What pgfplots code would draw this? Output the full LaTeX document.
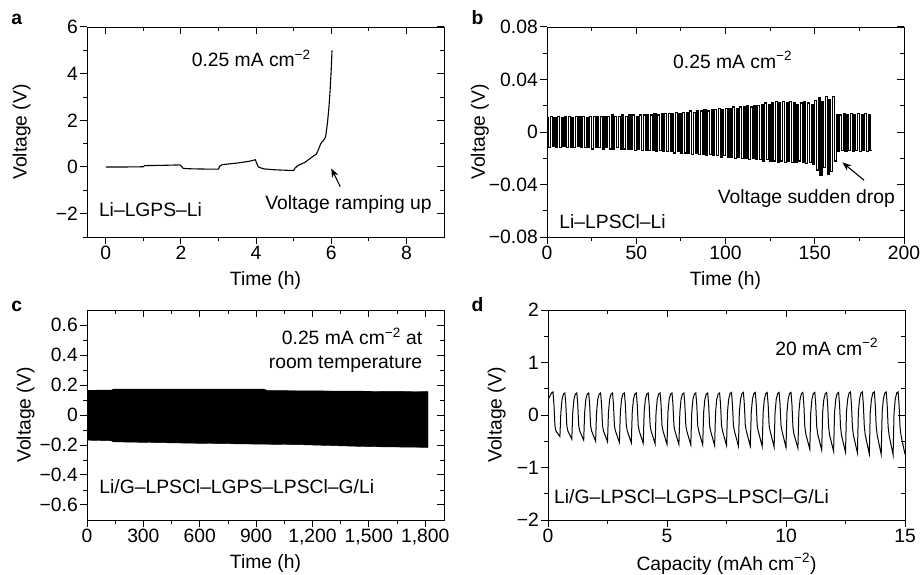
\documentclass[border=0pt]{standalone}
\usepackage{pgfplots}
\pgfplotsset{compat=1.18}
\usepackage{fontspec}
\setmainfont{Liberation Sans}
\usetikzlibrary{arrows.meta}

\newcommand{\fsz}{\fontsize{19.3}{22}\selectfont}

\pgfplotsset{
  base/.style={scale only axis, width=357pt, height=210pt,
    axis line style={line width=0.9pt},
    major tick style={line width=1pt, black},
    minor tick style={line width=0.8pt, black},
    major tick length=7pt, minor tick length=4pt, scaled ticks=false,
    tick label style={font=\fsz}, label style={font=\fsz}},
  mainax/.style={base, tick align=outside, xtick pos=bottom, ytick pos=left,
    xticklabel style={inner sep=2pt}, yticklabel style={inner sep=2pt}},
  overax/.style={base, tick align=inside, xtick pos=top, ytick pos=right,
    xticklabels={}, yticklabels={}},
  pa/.style={xmin=-0.5, xmax=9, ymin=-3, ymax=6, xtick={0,2,4,6,8}, ytick={-2,0,2,4,6},
    minor xtick={1,3,5,7}, minor ytick={-3,-1,1,3,5}},
  pb/.style={xmin=0, xmax=200, ymin=-0.08, ymax=0.08, xtick={0,50,100,150,200},
    ytick={-0.08,-0.04,0,0.04,0.08}, minor xtick={25,75,125,175}, minor ytick={-0.06,-0.02,0.02,0.06}},
  pc/.style={xmin=0, xmax=1900, ymin=-0.7, ymax=0.7, xtick={0,300,600,900,1200,1500,1800},
    ytick={-0.6,-0.4,-0.2,0,0.2,0.4,0.6}, minor xtick={150,450,750,1050,1350,1650},
    minor ytick={-0.5,-0.3,-0.1,0.1,0.3,0.5}},
  pd/.style={xmin=0, xmax=15, ymin=-2, ymax=2, xtick={0,5,10,15}, ytick={-2,-1,0,1,2},
    minor xtick={2.5,7.5,12.5}, minor ytick={-1.5,-0.5,0.5,1.5}},
}

\pgfplotstableread{
t v
0 0.011
1 -0.012
2 0.012
3 -0.011
4 0.011
5 -0.012
6 0.012
7 -0.012
8 0.011
9 -0.011
10 0.012
11 -0.012
12 0.012
13 -0.012
14 0.011
15 -0.012
16 0.012
17 -0.011
18 0.012
19 -0.012
20 0.012
21 -0.012
22 0.011
23 -0.012
24 0.012
25 -0.013
26 0.012
27 -0.012
28 0.012
29 -0.012
30 0.012
31 -0.013
32 0.012
33 -0.012
34 0.012
35 -0.013
36 0.013
37 -0.013
38 0.012
39 -0.012
40 0.012
41 -0.013
42 0.013
43 -0.013
44 0.012
45 -0.013
46 0.013
47 -0.013
48 0.013
49 -0.014
50 0.012
51 -0.013
52 0.013
53 -0.014
54 0.013
55 -0.014
56 0.013
57 -0.014
58 0.013
59 -0.014
60 0.014
61 -0.015
62 0.013
63 -0.014
64 0.014
65 -0.015
66 0.014
67 -0.015
68 0.014
69 -0.015
70 0.014
71 -0.016
72 0.015
73 -0.015
74 0.014
75 -0.016
76 0.015
77 -0.016
78 0.015
79 -0.016
80 0.016
81 -0.017
82 0.015
83 -0.016
84 0.016
85 -0.017
86 0.016
87 -0.017
88 0.017
89 -0.018
90 0.016
91 -0.017
92 0.017
93 -0.018
94 0.017
95 -0.018
96 0.018
97 -0.019
98 0.017
99 -0.018
100 0.018
101 -0.019
102 0.018
103 -0.019
104 0.019
105 -0.020
106 0.018
107 -0.019
108 0.019
109 -0.020
110 0.019
111 -0.020
112 0.020
113 -0.021
114 0.019
115 -0.020
116 0.020
117 -0.021
118 0.020
119 -0.021
120 0.021
121 -0.022
122 0.022
123 -0.021
124 0.021
125 -0.022
126 0.022
127 -0.022
128 0.023
129 -0.023
130 0.022
131 -0.022
132 0.023
133 -0.023
134 0.022
135 -0.022
136 0.023
137 -0.023
138 0.022
139 -0.023
140 0.021
141 -0.022
142 0.022
143 -0.023
144 0.023
145 -0.024
146 0.022
147 -0.023
148 0.021
149 -0.025
150 0.024
151 -0.029
152 0.026
153 -0.033
154 0.023
155 -0.027
156 0.027
157 -0.032
158 0.025
159 -0.030
160 0.027
161 -0.022
162 0.013
163 -0.015
164 0.013
165 -0.014
166 0.014
167 -0.015
168 0.013
169 -0.014
170 0.014
171 -0.015
172 0.013
173 -0.014
174 0.014
175 -0.015
176 0.013
177 -0.014
178 0.014
179 -0.015
180 0.013
181 -0.014
182 -0.014
}\tableb

\pgfplotstableread{
x y
0 0.28
0.04 0.33
0.09 0.37
0.15 0.42
0.21 0.44
0.25 0.20
0.29 -0.20
0.33 -0.30
0.50 -0.41
0.54 0.05
0.59 0.30
0.65 0.40
0.71 0.42
0.75 0.20
0.79 -0.20
0.83 -0.30
1.00 -0.46
1.04 0.05
1.09 0.30
1.15 0.40
1.21 0.42
1.25 0.20
1.29 -0.20
1.33 -0.30
1.50 -0.48
1.54 0.05
1.59 0.30
1.65 0.40
1.71 0.42
1.75 0.20
1.79 -0.20
1.83 -0.30
2.00 -0.50
2.04 0.05
2.09 0.30
2.15 0.40
2.21 0.42
2.25 0.20
2.29 -0.20
2.33 -0.30
2.50 -0.51
2.54 0.05
2.59 0.30
2.65 0.40
2.71 0.42
2.75 0.20
2.79 -0.20
2.83 -0.30
3.00 -0.52
3.04 0.05
3.09 0.30
3.15 0.40
3.21 0.42
3.25 0.20
3.29 -0.20
3.33 -0.30
3.50 -0.53
3.54 0.05
3.59 0.30
3.65 0.40
3.71 0.42
3.75 0.20
3.79 -0.20
3.83 -0.30
4.00 -0.54
4.04 0.05
4.09 0.30
4.15 0.40
4.21 0.42
4.25 0.20
4.29 -0.20
4.33 -0.30
4.50 -0.55
4.54 0.05
4.59 0.30
4.65 0.40
4.71 0.42
4.75 0.20
4.79 -0.20
4.83 -0.30
5.00 -0.56
5.04 0.05
5.09 0.30
5.15 0.40
5.21 0.42
5.25 0.20
5.29 -0.20
5.33 -0.30
5.50 -0.56
5.54 0.05
5.59 0.30
5.65 0.40
5.71 0.42
5.75 0.20
5.79 -0.20
5.83 -0.30
6.00 -0.57
6.04 0.05
6.09 0.30
6.15 0.40
6.21 0.42
6.25 0.20
6.29 -0.20
6.33 -0.30
6.50 -0.57
6.54 0.05
6.59 0.30
6.65 0.40
6.71 0.42
6.75 0.20
6.79 -0.20
6.83 -0.30
7.00 -0.58
7.04 0.05
7.09 0.30
7.15 0.40
7.21 0.42
7.25 0.20
7.29 -0.20
7.33 -0.30
7.50 -0.58
7.54 0.05
7.59 0.30
7.65 0.41
7.71 0.43
7.75 0.20
7.79 -0.20
7.83 -0.30
8.00 -0.59
8.04 0.05
8.09 0.30
8.15 0.41
8.21 0.43
8.25 0.20
8.29 -0.20
8.33 -0.30
8.50 -0.59
8.54 0.05
8.59 0.30
8.65 0.41
8.71 0.43
8.75 0.20
8.79 -0.20
8.83 -0.30
9.00 -0.60
9.04 0.05
9.09 0.30
9.15 0.41
9.21 0.43
9.25 0.20
9.29 -0.20
9.33 -0.30
9.50 -0.61
9.54 0.05
9.59 0.30
9.65 0.41
9.71 0.43
9.75 0.20
9.79 -0.20
9.83 -0.30
10.00 -0.62
10.04 0.05
10.09 0.30
10.15 0.41
10.21 0.43
10.25 0.20
10.29 -0.22
10.33 -0.36
10.50 -0.63
10.54 0.05
10.59 0.30
10.65 0.41
10.71 0.43
10.75 0.20
10.79 -0.22
10.83 -0.36
11.00 -0.65
11.04 0.05
11.09 0.30
11.15 0.41
11.21 0.43
11.25 0.20
11.29 -0.22
11.33 -0.36
11.50 -0.67
11.54 0.05
11.59 0.30
11.65 0.41
11.71 0.43
11.75 0.20
11.79 -0.22
11.83 -0.38
12.00 -0.69
12.04 0.05
12.09 0.30
12.15 0.41
12.21 0.43
12.25 0.20
12.29 -0.22
12.33 -0.38
12.50 -0.71
12.54 0.05
12.59 0.30
12.65 0.42
12.71 0.44
12.75 0.20
12.79 -0.22
12.83 -0.38
13.00 -0.72
13.04 0.05
13.09 0.30
13.15 0.42
13.21 0.44
13.25 0.20
13.29 -0.22
13.33 -0.38
13.50 -0.74
13.54 0.05
13.59 0.30
13.65 0.42
13.71 0.44
13.75 0.20
13.79 -0.22
13.83 -0.38
14.00 -0.75
14.04 0.05
14.09 0.30
14.15 0.42
14.21 0.44
14.25 0.20
14.29 -0.22
14.33 -0.38
14.50 -0.76
14.54 0.05
14.59 0.30
14.65 0.42
14.71 0.44
14.75 0.20
14.79 -0.22
14.83 -0.38
15.00 -0.75
}\tabled

\begin{document}
\begin{tikzpicture}[font=\fsz]
\path[use as bounding box] (0,0) rectangle (920pt,-575pt);

% ---------------- panel a
\begin{axis}[mainax, pa, at={(87pt,-27pt)}, anchor=north west,
  xticklabels={0,2,4,6,8}, yticklabels={−2,0,2,4,6},
  xlabel={Time (h)}, ylabel={Voltage (V)},
  xlabel style={at={(axis description cs:0.5,-0.205)}, anchor=center},
  ylabel style={at={(axis description cs:-0.183,0.5)}, anchor=center}]
\addplot[black, line width=1.1pt] coordinates {
(0,0) (0.5,0.0) (1.0,0.01) (1.03,0.06) (1.5,0.07) (1.97,0.09) (2.02,0.02) (2.06,-0.06)
(2.3,-0.08) (2.7,-0.09) (3.0,-0.09) (3.03,0.03) (3.1,0.10) (3.5,0.17) (3.8,0.24) (3.98,0.31)
(4.02,0.15) (4.06,0.0) (4.2,-0.08) (4.5,-0.12) (4.8,-0.14) (5.0,-0.15) (5.03,-0.06) (5.1,0.05)
(5.3,0.2) (5.45,0.38) (5.6,0.55) (5.66,0.75) (5.72,1.0) (5.8,1.15) (5.85,1.3) (5.9,1.9)
(5.94,2.6) (5.97,3.3) (6.0,4.2) (6.02,5.0)};
\node[anchor=base] at (axis cs:3.87,4.29) {0.25 mA cm\textsuperscript{−2}};
\node[anchor=base] at (axis cs:6.46,-1.84) {Voltage ramping up};
\node[anchor=base] at (axis cs:1.19,-2.12) {Li–LGPS–Li};
\draw[line width=1.1pt, -{Stealth[length=9pt,width=7pt]}] (axis cs:6.24,-0.84) -- (axis cs:6.0,-0.06);
\end{axis}
\begin{axis}[overax, pa, at={(87pt,-27pt)}, anchor=north west]
\addplot[draw=none] coordinates {(0,0)};
\end{axis}

% ---------------- panel b
\begin{axis}[mainax, pb, at={(547pt,-27pt)}, anchor=north west,
  xticklabels={0,50,100,150,200}, yticklabels={−0.08,−0.04,0,0.04,0.08},
  xlabel={Time (h)}, ylabel={Voltage (V)},
  xlabel style={at={(axis description cs:0.5,-0.205)}, anchor=center},
  ylabel style={at={(axis description cs:-0.188,0.5)}, anchor=center}]
\addplot[black, line width=1.3pt, const plot] table[x=t, y=v] {\tableb};
\node[anchor=base] at (axis cs:104,0.0484) {0.25 mA cm\textsuperscript{−2}};
\node[anchor=base] at (axis cs:145.3,-0.0544) {Voltage sudden drop};
\node[anchor=base] at (axis cs:36.7,-0.0734) {Li–LPSCl–Li};
\draw[line width=1.1pt, -{Stealth[length=9pt,width=7pt]}] (axis cs:177.6,-0.0367) -- (axis cs:165.5,-0.0232);
\end{axis}
\begin{axis}[overax, pb, at={(547pt,-27pt)}, anchor=north west]
\addplot[draw=none] coordinates {(0,0)};
\end{axis}

% ---------------- panel c
\begin{axis}[mainax, pc, at={(87pt,-310pt)}, anchor=north west,
  xticklabels={0,300,600,900,{1,200},{1,500},{1,800}},
  yticklabels={−0.6,−0.4,−0.2,0,0.2,0.4,0.6},
  xlabel={Time (h)}, ylabel={Voltage (V)},
  xlabel style={at={(axis description cs:0.5,-0.205)}, anchor=center},
  ylabel style={at={(axis description cs:-0.172,0.5)}, anchor=center}]
\addplot[black, fill=black, line width=0.4pt] coordinates {
(3,0.165) (130,0.166) (140,0.173) (940,0.173) (960,0.163) (1300,0.160) (1815,0.156)
(1815,-0.216) (1500,-0.211) (1140,-0.198) (600,-0.189) (140,-0.179) (130,-0.172) (3,-0.168)};
\node[anchor=base east] at (axis cs:1803,0.467) {0.25 mA cm\textsuperscript{−2} at};
\node[anchor=base east] at (axis cs:1803,0.311) {room temperature};
\node[anchor=base] at (axis cs:797,-0.522) {Li/G–LPSCl–LGPS–LPSCl–G/Li};
\end{axis}
\begin{axis}[overax, pc, at={(87pt,-310pt)}, anchor=north west]
\addplot[draw=none] coordinates {(0,0)};
\end{axis}

% ---------------- panel d
\begin{axis}[mainax, pd, at={(548pt,-310pt)}, anchor=north west,
  xticklabels={0,5,10,15}, yticklabels={−2,−1,0,1,2},
  xlabel={Capacity (mAh cm\textsuperscript{−2})}, ylabel={Voltage (V)},
  xlabel style={at={(axis description cs:0.5,-0.209)}, anchor=center},
  ylabel style={at={(axis description cs:-0.144,0.5)}, anchor=center}]
\addplot[black, line width=1pt] table[x=x, y=y] {\tabled};
\node[anchor=base] at (axis cs:11.71,1.134) {20 mA cm\textsuperscript{−2}};
\node[anchor=base] at (axis cs:6.03,-1.678) {Li/G–LPSCl–LGPS–LPSCl–G/Li};
\end{axis}
\begin{axis}[overax, pd, at={(548pt,-310pt)}, anchor=north west]
\addplot[draw=none] coordinates {(0,0)};
\end{axis}

% panel letters
\node[anchor=base, font=\fsz\bfseries] at (16.7pt,-25pt) {a};
\node[anchor=base, font=\fsz\bfseries] at (477.5pt,-25pt) {b};
\node[anchor=base, font=\fsz\bfseries] at (16.7pt,-311pt) {c};
\node[anchor=base, font=\fsz\bfseries] at (477.5pt,-311pt) {d};
\end{tikzpicture}
\end{document}
